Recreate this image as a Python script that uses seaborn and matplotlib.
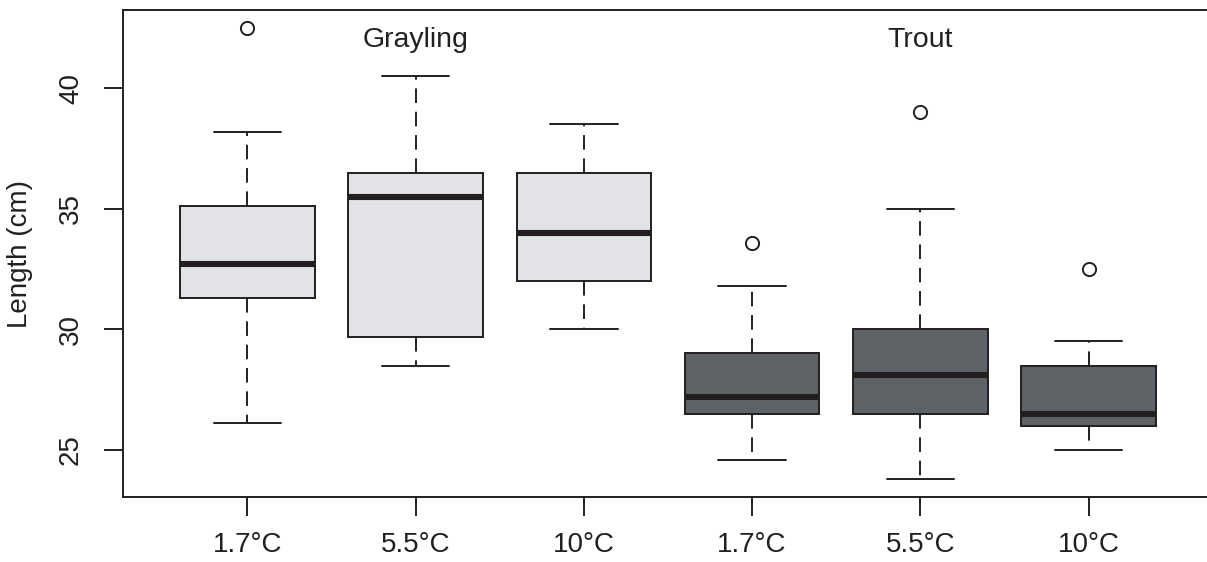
import matplotlib
matplotlib.use("Agg")
import matplotlib.pyplot as plt
import seaborn as sns

species = ["Grayling", "Grayling", "Grayling", "Trout", "Trout", "Trout"]
temps = ["1.7°C", "5.5°C", "10°C", "1.7°C", "5.5°C", "10°C"]
whislo = [26.1, 28.5, 30.0, 24.6, 23.8, 25.0]
q1 = [31.3, 29.7, 32.0, 26.5, 26.5, 26.0]
med = [32.7, 35.5, 34.0, 27.2, 28.1, 26.5]
q3 = [35.1, 36.5, 36.5, 29.0, 30.0, 28.5]
whishi = [38.2, 40.5, 38.5, 31.8, 35.0, 29.5]
fliers = [[42.5], [], [], [33.6], [39.0], [32.5]]
species_labels = ["Grayling", "Trout"]
yticks = [25, 30, 35, 40]

sns.set_theme(style="white")
plt.rcParams["font.family"] = ["Liberation Sans", "DejaVu Sans"]

fig = plt.figure(figsize=(12.07, 5.62), dpi=100)
ax = fig.add_axes([123/1207, 1 - 497/562, (1213 - 123)/1207, (497 - 10)/562])

ink = "#231f20"
fills = {"Grayling": "#e1e3e7", "Trout": "#5d6366"}

stats = []
for i in range(len(temps)):
    stats.append(dict(whislo=whislo[i], q1=q1[i], med=med[i], q3=q3[i],
                      whishi=whishi[i], fliers=fliers[i], label=temps[i]))

bp = ax.bxp(stats, positions=range(len(temps)), widths=0.8, patch_artist=True,
            showfliers=True,
            boxprops=dict(edgecolor=ink, linewidth=1.4),
            medianprops=dict(color=ink, linewidth=4.4, solid_capstyle="butt"),
            whiskerprops=dict(color=ink, linewidth=1.4, linestyle=(0, (7.5, 4.5))),
            capprops=dict(color=ink, linewidth=1.4),
            capwidths=0.4,
            flierprops=dict(marker="o", markerfacecolor="none", markeredgecolor=ink,
                            markersize=9.5, markeredgewidth=1.4))
for patch, sp in zip(bp["boxes"], species):
    patch.set_facecolor(fills[sp])

ax.set_xlim(-0.74, 5.74)
ax.set_ylim(23.05, 43.24)
ax.set_yticks(yticks)
ax.set_yticklabels([str(t) for t in yticks], rotation=90, va="center")
ax.set_xticks(range(len(temps)))
ax.set_xticklabels(temps)
ax.tick_params(axis="both", direction="out", length=14, width=1.4, color=ink,
               labelsize=20, labelcolor=ink, left=True, bottom=True)
ax.tick_params(axis="x", pad=11)
ax.tick_params(axis="y", pad=14)
ax.set_ylabel("Length (cm)", fontsize=20, color=ink, labelpad=18)

for s in ax.spines.values():
    s.set_visible(True)
    s.set_color(ink)
    s.set_linewidth(1.4)

ax.text(1, 41.7, species_labels[0], ha="center", va="baseline", fontsize=20.5, color=ink)
ax.text(4, 41.7, species_labels[1], ha="center", va="baseline", fontsize=20.5, color=ink)

fig.savefig("out.png", dpi=100)
